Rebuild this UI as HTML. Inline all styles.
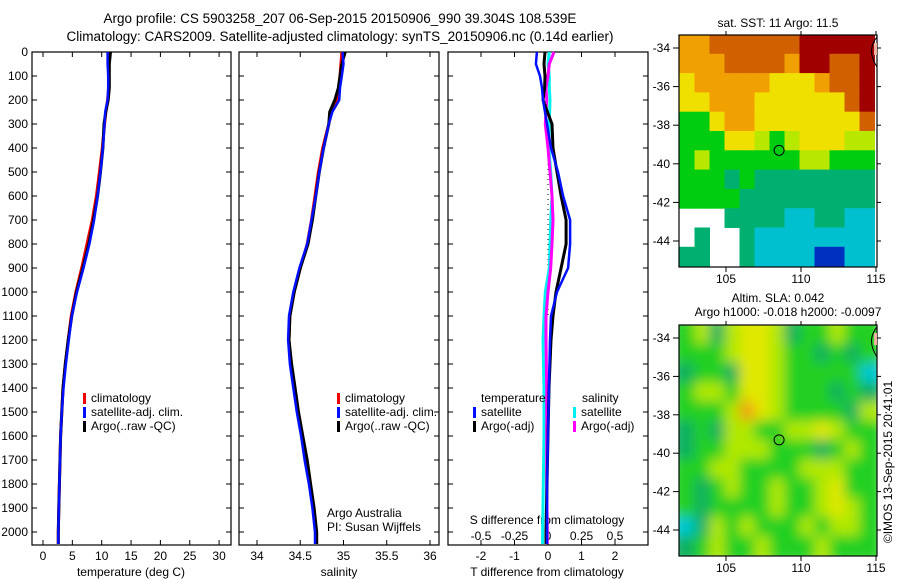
<!DOCTYPE html>
<html><head><meta charset="utf-8"><style>
html,body{margin:0;padding:0;background:#fff;}
svg{display:block;font-family:"Liberation Sans",sans-serif;}
text{font-size:12px;fill:#000;}
</style></head><body>
<svg id="fig" width="900" height="580" viewBox="0 0 900 580" xmlns="http://www.w3.org/2000/svg">
<defs>
<clipPath id="c1"><rect x="679" y="35" width="198" height="232"/></clipPath>
<clipPath id="c2"><rect x="679" y="325" width="198" height="231"/></clipPath>
<filter id="blur" x="-20%" y="-20%" width="140%" height="140%" filterUnits="objectBoundingBox"><feGaussianBlur stdDeviation="6"/></filter>
</defs>
<text x="340" y="23" text-anchor="middle" style="font-size:13.5px">Argo profile: CS 5903258_207 06-Sep-2015 20150906_990 39.304S 108.539E</text>
<text x="340" y="41" text-anchor="middle" style="font-size:13.5px">Climatology: CARS2009. Satellite-adjusted climatology: synTS_20150906.nc (0.14d earlier)</text>
<g id="g"></g>
</svg>
<script>
// ---------- data ----------
const depths = [0,50,100,150,200,250,300,400,500,600,700,800,900,1000,1100,1200,1300,1400,1500,1600,1700,1800,1900,2000,2050];
const climTemp = [11.2,11.2,11.2,11.2,11.0,10.7,10.5,10.1,9.6,9.1,8.4,7.5,6.6,5.6,4.8,4.3,3.8,3.4,3.2,3.0,2.9,2.8,2.7,2.6,2.6];
const satTemp  = [11.0,11.0,11.1,11.1,11.0,10.6,10.5,10.2,9.8,9.3,8.7,7.9,6.9,5.8,4.9,4.4,3.9,3.5,3.2,3.0,2.9,2.8,2.7,2.6,2.6];
const argoTemp = [11.5,11.3,11.3,11.3,11.1,10.7,10.4,10.2,9.8,9.3,8.6,7.8,6.8,5.7,4.9,4.3,3.8,3.4,3.2,3.0,2.9,2.8,2.7,2.6,2.6];
const climSal = [34.98,34.97,34.96,34.95,34.93,34.86,34.83,34.76,34.71,34.67,34.63,34.58,34.5,34.43,34.38,34.37,34.39,34.43,34.47,34.52,34.56,34.61,34.65,34.68,34.69];
const satSal  = [34.99,35.0,34.98,34.96,34.95,34.87,34.83,34.77,34.72,34.68,34.63,34.58,34.49,34.42,34.37,34.36,34.38,34.42,34.46,34.51,34.55,34.6,34.64,34.67,34.67];
const argoSal = [35.02,34.98,34.96,34.94,34.9,34.84,34.83,34.77,34.72,34.68,34.64,34.59,34.5,34.43,34.38,34.37,34.4,34.44,34.48,34.53,34.58,34.62,34.66,34.69,34.69];
const diffDepths = [0,50,100,150,200,300,400,500,600,700,800,900,1000,1100,1200,1400,1600,1800,2000,2050];
const satTDiff  = [-0.33,-0.36,-0.24,-0.18,-0.15,-0.03,0.09,0.3,0.45,0.66,0.66,0.6,0.27,0.09,0.06,0.03,0.0,-0.03,-0.03,-0.03];
const argoTDiff = [-0.09,-0.12,-0.09,-0.1,-0.15,0.12,0.15,0.27,0.39,0.54,0.54,0.39,0.24,0.15,0.09,0.03,0.0,-0.03,-0.06,-0.06];
const satSDiff  = [0.01,0.0,0.01,0.01,0.015,0.01,0.007,0.02,0.03,0.02,0.015,0.01,-0.02,-0.03,-0.037,-0.03,-0.03,-0.035,-0.04,-0.04];
const argoSDiff = [0.045,0.01,0.0,-0.015,-0.01,-0.02,0.0,0.015,0.03,0.037,0.03,0.02,0.0,-0.015,-0.015,-0.01,-0.01,-0.01,-0.005,-0.005];
const depthTicks = [0,100,200,300,400,500,600,700,800,900,1000,1100,1200,1300,1400,1500,1600,1700,1800,1900,2000];
const tempTicks = [0,5,10,15,20,25,30];
const salTicks = [34,34.5,35,35.5,36];
const tdTicks = [-2,-1,0,1,2];
const sdTicks = [-0.5,-0.25,0,0.25,0.5];
const latTicks = [-34,-36,-38,-40,-42,-44];
const lonTicks = [105,110,115];
const sstGrid = [
[6,6,7,7,7,7,7,7,8,8,8,8,8],
[6,6,6,7,7,7,7,6,8,8,7,7,8],
[5,6,6,6,6,6,5,5,5,6,7,7,8],
[5,5,6,6,6,5,5,5,5,5,5,7,8],
[3,3,5,6,6,5,5,5,5,5,5,5,7],
[3,3,3,5,5,4,3,4,5,5,5,4,4],
[3,4,3,3,3,3,3,3,4,4,3,3,3],
[3,3,3,2,3,2,2,2,2,2,2,2,2],
[3,3,3,3,2,2,2,2,2,2,2,2,2],
[-1,-1,-1,2,2,2,2,1,1,2,2,1,1],
[-1,2,-1,-1,2,1,1,1,1,1,1,1,1],
[2,2,-1,-1,2,1,1,1,1,0,0,1,1]];
const slaGrid = [
[2,3,1,3,4,4,3,1,2,2,3,2,2],
[2,2,2,3,4,4,3,2,2,1,2,1,2],
[1,2,2,1,4,4,3,2,2,2,2,2,0],
[2,3,3,2,4,4,3,2,2,2,1,2,1],
[2,2,2,3,5,4,3,2,2,2,2,1,3],
[1,2,1,3,3,2,2,3,3,4,3,2,2],
[1,2,2,3,3,3,2,2,2,1,2,3,2],
[2,2,3,3,2,2,2,2,3,3,3,2,2],
[2,1,2,3,2,2,3,2,2,3,4,2,2],
[2,1,2,2,2,2,3,2,2,3,4,3,2],
[0,1,3,2,3,2,2,2,3,2,3,3,2],
[1,2,3,2,2,3,2,2,2,3,2,2,2]];
const sstColors = ['#0030c0','#00c0d0','#00b070','#00cc10','#b8e800','#f0e000','#f0a000','#d06000','#a00000'];
const slaColors = ['#00c8d0','#10b060','#20d020','#b0e800','#e0e800','#f0a010'];
const argoLon = 108.539, argoLat = -39.304;

// ---------- helpers ----------
const NS='http://www.w3.org/2000/svg';
const G=document.getElementById('g');
function mk(tag,attrs,parent){const e=document.createElementNS(NS,tag);for(const k in attrs)e.setAttribute(k,attrs[k]);(parent||G).appendChild(e);return e;}
function txt(x,y,s,anchor,parent){const t=mk('text',{x:x,y:y,'text-anchor':anchor||'start'},parent);t.textContent=s;return t;}
const yD = d => 52 + d*0.24;
const xT = t => 43 + t*5.87;
const xS = s => 257 + (s-34)*86.5;
const xTD = v => 548 + v*33.5;
const xSD = v => 548 + v*134;
const lonX = l => 726 + (l-105)*15;
const latY1 = l => 48 + (-34-l)*19.3;
const latY2 = l => 338 + (-34-l)*19.2;

// ---------- panels ----------
const panels=[{x:32,w:199,n:'temperature-panel'},{x:239,w:200,n:'salinity-panel'},{x:448,w:200,n:'difference-panel'}];
panels.forEach(p=>{
  const r=mk('rect',{x:p.x,y:52,width:p.w,height:493,fill:'none',stroke:'#000','stroke-width':1.2});
  
  
  depthTicks.forEach(d=>{
    mk('line',{x1:p.x,x2:p.x+5,y1:yD(d),y2:yD(d),stroke:'#000'});
    mk('line',{x1:p.x+p.w-5,x2:p.x+p.w,y1:yD(d),y2:yD(d),stroke:'#000'});
  });
});
depthTicks.forEach(d=>{
  const t=txt(28,yD(d)+4,String(d),'end');
  
  
});
function xTicks(vals,fx,labelY,top){
  vals.forEach(v=>{
    const x=fx(v);
    mk('line',{x1:x,x2:x,y1:545,y2:540,stroke:'#000'});
    if(top) mk('line',{x1:x,x2:x,y1:52,y2:57,stroke:'#000'});
    const t=txt(x,labelY,String(v),'middle');
    
    
  });
}
xTicks(tempTicks,xT,560,true);
xTicks(salTicks,xS,560,true);
xTicks(tdTicks,xTD,560,true);
sdTicks.forEach(v=>{const t=txt(xSD(v),540,String(v),'middle');
  
  });
[['temperature (deg C)',131,'temperature-axis-title'],['salinity',339,'salinity-axis-title'],['T difference from climatology',547,'t-diff-axis-title']].forEach(a=>{
  const t=txt(a[1],576,a[0],'middle');
  
  
});
{const t=txt(547,524,'S difference from climatology','middle');

}

function step(xs,ds,fx,color,w,name){
  let d='';
  for(let i=0;i<xs.length;i++){d+=(i?'L':'M')+fx(xs[i]).toFixed(1)+' '+yD(ds[i]).toFixed(1);}
  const p=mk('path',{d:d,fill:'none',stroke:color,'stroke-width':w,'stroke-linejoin':'round'});
  
  
}
step(climTemp,depths,xT,'#f00000',3,'climatology-temp-line');
step(argoTemp,depths,xT,'#000',3,'argo-temp-line');
step(satTemp,depths,xT,'#0010ff',2.5,'satellite-temp-line');
step(climSal,depths,xS,'#f00000',3,'climatology-sal-line');
step(argoSal,depths,xS,'#000',3,'argo-sal-line');
step(satSal,depths,xS,'#0010ff',2.5,'satellite-sal-line');
mk('line',{x1:548,x2:548,y1:yD(300),y2:yD(1100),stroke:'#000','stroke-dasharray':'1 4'});
step(satSDiff,diffDepths,xSD,'#00f0f0',3,'satellite-s-diff-line');
step(argoSDiff,diffDepths,xSD,'#ff00ff',3,'argo-s-diff-line');
step(argoTDiff,diffDepths,xTD,'#000',3,'argo-t-diff-line');
step(satTDiff,diffDepths,xTD,'#0010ff',2.5,'satellite-t-diff-line');

function leg(x,y,color,label,name){
  mk('rect',{x:x,y:y-9,width:3,height:11,fill:color});
  const t=txt(x+8,y,label);
  
  
}
leg(83,402,'#f00000','climatology','legend-climatology');
leg(83,416,'#0010ff','satellite-adj. clim.','legend-satellite');
leg(83,430,'#000','Argo(..raw -QC)','legend-argo');
leg(337,402,'#f00000','climatology','legend-climatology-2');
leg(337,416,'#0010ff','satellite-adj. clim.','legend-satellite-2');
leg(337,430,'#000','Argo(..raw -QC)','legend-argo-2');
txt(481,402,'temperature');txt(582,402,'salinity');
leg(473,416,'#0010ff','satellite','legend-t-satellite');
leg(473,430,'#000','Argo(-adj)','legend-t-argo');
leg(573,416,'#00f0f0','satellite','legend-s-satellite');
leg(573,430,'#ff00ff','Argo(-adj)','legend-s-argo');
txt(327,517,'Argo Australia');txt(327,531,'PI: Susan Wijffels');

// ---------- maps ----------
function drawMap(grid,colors,clip,latY,name,blur){
  const g=mk('g',{'clip-path':'url(#'+clip+')'});
  
  
  const inner=blur?mk('g',{filter:'url(#blur)'},g):g;
  grid.forEach((row,i)=>row.forEach((v,j)=>{
    if(v<0)return;
    const lat0=-33.3-i, lon0=101.9+j;
    const pad=blur?(i===0||i===grid.length-1||j===0||j===row.length-1?8:0):0;
    const y0=latY(lat0), y1=latY(lat0-1);
    const x0=lonX(lon0);
    const r=mk('rect',{x:x0-(j===0?pad:0),y:y0-(i===0?pad:0),width:15.5+(j===0||j===row.length-1?pad:0),height:y1-y0+0.5+(i===0||i===grid.length-1?pad:0),fill:colors[v]},inner);
    
  }));
  return g;
}
drawMap(sstGrid,sstColors,'c1',latY1,'sst-map',false);
drawMap(slaGrid,slaColors,'c2',latY2,'sla-map',true);
[[35,267,latY1,'sst'],[325,556,latY2,'sla']].forEach(m=>{
  const f=mk('rect',{x:679,y:m[0],width:198,height:m[1]-m[0],fill:'none',stroke:'#000','stroke-width':1.2});
  
  
  latTicks.forEach(l=>{
    const y=m[2](l);
    mk('line',{x1:673,x2:679,y1:y,y2:y,stroke:'#000'});
    mk('line',{x1:877,x2:881,y1:y,y2:y,stroke:'#000'});
    txt(670,y+4,String(l),'end');
  });
  lonTicks.forEach(l=>{
    const x=lonX(l);
    mk('line',{x1:x,x2:x,y1:m[1],y2:m[1]+5,stroke:'#000'});
    mk('line',{x1:x,x2:x,y1:m[0],y2:m[0]-4,stroke:'#000'});
    txt(x,m[1]+16,String(l),'middle');
  });
  const c=mk('circle',{cx:lonX(argoLon),cy:m[2](argoLat),r:5,fill:'none',stroke:'#000'});
  
  
  mk('path',{d:`M877 ${m[0]+2} Q866 ${m[0]+15} 877 ${m[0]+32}`,fill:'none',stroke:'#000'});
  mk('rect',{x:874,y:m[0]+8,width:3,height:12,fill:'#f0b0a0'});
});
txt(778,27,'sat. SST: 11 Argo: 11.5','middle');
txt(778,302,'Altim. SLA: 0.042','middle');
txt(788,316,'Argo h1000: -0.018 h2000: -0.0097','middle');
const cr=txt(0,0,'©IMOS 13-Sep-2015 20:41:01','middle');
cr.setAttribute('transform','translate(892,462) rotate(-90)');


</script>
</body></html>
